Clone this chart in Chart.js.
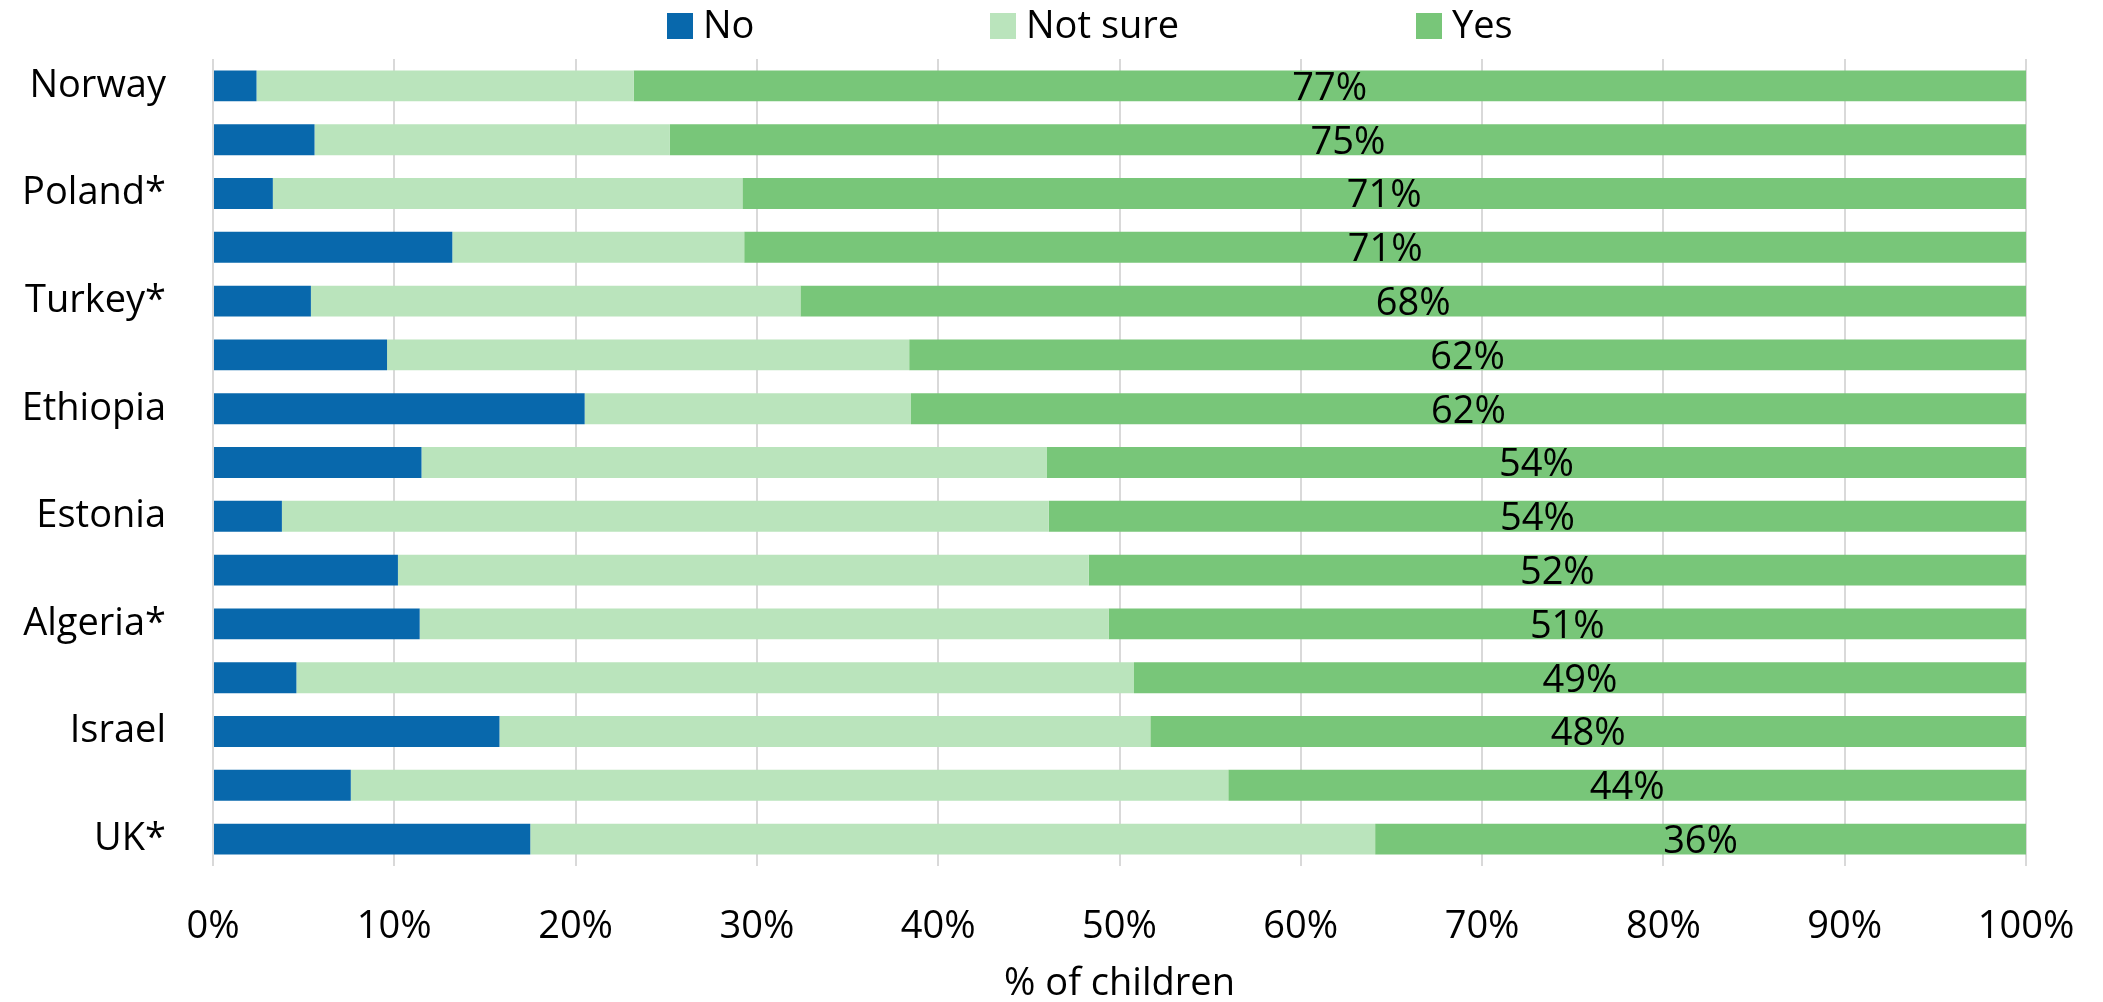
<!DOCTYPE html>
<html>
<head>
<meta charset="utf-8">
<script src="https://cdn.jsdelivr.net/npm/chart.js@4/dist/chart.umd.min.js"></script>
<style>
  html, body { margin: 0; padding: 0; background: #fff; }
  #wrap { width: 2103px; height: 1002px; }
</style>
</head>
<body>
<div id="wrap"><canvas id="barChart"></canvas></div>
<script>
// countries (only every other row is labelled in the original)
const countries = ["Norway", "", "Poland*", "", "Turkey*", "", "Ethiopia", "", "Estonia", "", "Algeria*", "", "Israel", "", "UK*"];
const noValues      = [2.4, 5.6, 3.3, 13.2, 5.4, 9.6, 20.5, 11.5, 3.8, 10.2, 11.4, 4.6, 15.8, 7.6, 17.5];
const notSureValues = [20.8, 19.6, 25.9, 16.1, 27.0, 28.8, 18.0, 34.5, 42.3, 38.1, 38.0, 46.2, 35.9, 48.4, 46.6];
const yesValues     = [76.8, 74.8, 70.8, 70.7, 67.6, 61.6, 61.5, 54.0, 53.9, 51.7, 50.6, 49.2, 48.3, 44.0, 35.9];
const seriesNames = ["No", "Not sure", "Yes"];
const seriesColors = ["#0868ac", "#bae4bc", "#78c679"];
const xTicks = [0, 10, 20, 30, 40, 50, 60, 70, 80, 90, 100];

const FONT = "'Open Sans', 'Noto Sans', sans-serif";
const legendX = [667, 990, 1416]; // left edge of each legend box

// legend drawn like the Excel one (boxes spread out across the top)
const topLegend = {
  id: "topLegend",
  afterDraw(chart) {
    const ctx = chart.ctx;
    ctx.save();
    ctx.font = "38px " + FONT;
    ctx.textBaseline = "middle";
    ctx.textAlign = "left";
    chart.data.datasets.forEach((ds, i) => {
      ctx.fillStyle = ds.backgroundColor;
      ctx.fillRect(legendX[i], 13, 26, 26);
      ctx.fillStyle = "#000";
      ctx.fillText(ds.label, legendX[i] + 36, 27);
    });
    ctx.restore();
  },
};

// percentage labels centred in the "Yes" segment
const yesLabels = {
  id: "yesLabels",
  afterDatasetsDraw(chart) {
    const ctx = chart.ctx;
    const meta = chart.getDatasetMeta(2);
    ctx.save();
    ctx.font = "38px " + FONT;
    ctx.fillStyle = "#000";
    ctx.textAlign = "center";
    ctx.textBaseline = "middle";
    meta.data.forEach((bar, i) => {
      const cx = (bar.x + bar.base) / 2;
      ctx.fillText(Math.round(yesValues[i]) + "%", cx, bar.y + 3);
    });
    ctx.restore();
  },
};

Chart.defaults.font.family = FONT;
Chart.defaults.color = "#000";

new Chart(document.getElementById("barChart").getContext("2d"), {
  type: "bar",
  data: {
    labels: countries,
    datasets: [
      { label: seriesNames[0], data: noValues, backgroundColor: seriesColors[0] },
      { label: seriesNames[1], data: notSureValues, backgroundColor: seriesColors[1] },
      { label: seriesNames[2], data: yesValues, backgroundColor: seriesColors[2] },
    ],
  },
  options: {
    indexAxis: "y",
    responsive: true,
    maintainAspectRatio: false,
    animation: false,
    datasets: { bar: { barPercentage: 0.575, categoryPercentage: 1, borderWidth: 0 } },
    layout: { padding: { top: 59, right: 77, left: 0, bottom: 0 } },
    plugins: {
      legend: { display: false },
      tooltip: { enabled: false },
    },
    scales: {
      x: {
        stacked: true,
        min: 0,
        max: 100,
        afterBuildTicks: (scale) => { scale.ticks = xTicks.map((v) => ({ value: v })); },
        afterFit: (scale) => {
          scale.height = 136;
          scale.paddingLeft = 0;
          scale.paddingRight = 0;
        },
        ticks: {
          font: { size: 38 },
          padding: 38,
          callback: (v) => v + "%",
        },
        grid: { color: "#d9d9d9", lineWidth: 2, drawTicks: false },
        border: { display: false },
        title: { display: true, text: "% of children", font: { size: 38 }, padding: { top: 0, bottom: -5 } },
      },
      y: {
        stacked: true,
        afterFit: (scale) => {
          scale.width = 213;
          scale.paddingTop = 0;
          scale.paddingBottom = 0;
        },
        ticks: { font: { size: 38 }, padding: 47, autoSkip: false },
        grid: { display: false, drawTicks: false },
        border: { display: false },
      },
    },
  },
  plugins: [topLegend, yesLabels],
});
</script>
</body>
</html>
